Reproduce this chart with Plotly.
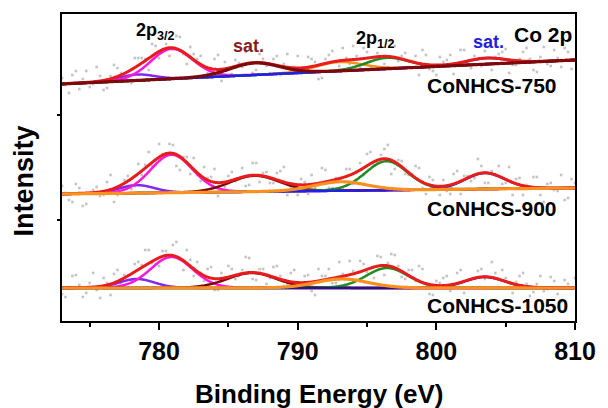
import numpy as np
import plotly.graph_objects as go

# ---------------- data ----------------
ENERGY_RANGE = [773.0, 810.0]
SAMPLES = ["CoNHCS-750", "CoNHCS-900", "CoNHCS-1050"]

# fitted components, in order:
# 2p3/2 (a), 2p3/2 (b), 2p3/2 satellite, 2p1/2 (a), 2p1/2 (b), 2p1/2 satellite
centers_750 = [778.4, 780.9, 786.9, 793.0, 796.45, 803.6]
fwhm_750 = [3.0, 3.6, 4.2, 4.0, 3.6, 3.4]
heights_750 = [6, 30, 12, 9, 11, 6]
background_750 = [237, 261]          # intensity at 773 eV and 810 eV (offset panel)

centers_900 = [778.4, 780.9, 786.9, 793.1, 796.4, 803.5]
fwhm_900 = [3.0, 3.6, 4.2, 4.5, 3.6, 3.4]
heights_900 = [8, 38, 16, 9, 29, 16]
background_900 = [127, 133]

centers_1050 = [778.4, 780.9, 786.7, 793.2, 796.45, 803.5]
fwhm_1050 = [3.0, 3.6, 4.2, 4.5, 3.6, 3.4]
heights_1050 = [9, 31, 15, 9, 20, 11]
background_1050 = [33, 33]

# raw (measured) points: grid A every 0.5 eV from 773.0, grid B shifted by 0.25 eV
raw_energy_a = np.arange(773.0, 810.25, 0.5)
raw_energy_b = np.arange(773.25, 810.0, 0.5)

raw_750_a = [243, 228, 250, 242, 234, 254, 231, 245, 253, 243, 238, 263, 262, 277, 263,
             277, 272, 284, 257, 267, 265, 248, 262, 240, 253, 261, 254, 273, 251, 262,
             248, 265, 257, 249, 265, 253, 262, 242, 262, 270, 255, 263, 275, 254, 269,
             262, 274, 254, 275, 265, 254, 265, 271, 252, 246, 259, 266, 256, 271, 253,
             262, 270, 251, 267, 272, 256, 262, 273, 251, 264, 257, 271, 254, 269, 260]
raw_750_b = [236, 246, 232, 250, 237, 245, 233, 256, 248, 244, 263, 263, 251, 275, 272,
             265, 285, 267, 274, 262, 245, 249, 266, 259, 247, 258, 269, 248, 267, 255,
             262, 246, 267, 254, 247, 264, 259, 243, 266, 259, 273, 257, 265, 273, 254,
             268, 257, 280, 260, 268, 260, 246, 266, 250, 264, 261, 247, 271, 258, 265,
             255, 274, 264, 269, 248, 256, 269, 262, 249, 274, 255, 263, 273, 252]

raw_900_a = [135, 121, 137, 115, 128, 134, 126, 146, 126, 141, 132, 157, 156, 155, 177,
             167, 176, 151, 164, 163, 140, 143, 152, 130, 145, 140, 153, 136, 158, 148,
             138, 148, 154, 134, 126, 139, 146, 136, 151, 133, 143, 152, 137, 158, 167,
             156, 166, 176, 152, 160, 146, 155, 133, 144, 133, 141, 127, 150, 145, 140,
             162, 138, 150, 155, 138, 126, 143, 136, 144, 126, 137, 131, 146, 123, 138]
raw_900_b = [128, 119, 133, 117, 131, 125, 139, 119, 134, 145, 135, 146, 169, 156, 167,
             177, 155, 164, 147, 146, 154, 144, 125, 134, 149, 142, 135, 158, 139, 149,
             138, 150, 126, 136, 142, 127, 133, 153, 133, 143, 132, 152, 149, 146, 169,
             159, 172, 147, 161, 147, 147, 153, 127, 141, 126, 130, 147, 127, 145, 143,
             155, 138, 146, 137, 154, 142, 126, 132, 144, 119, 138, 130, 121, 142]

raw_1050_a = [27, 34, 46, 24, 38, 31, 43, 26, 51, 46, 41, 59, 71, 58, 55,
              70, 76, 62, 71, 45, 48, 52, 31, 48, 55, 42, 51, 63, 41, 52,
              43, 55, 35, 48, 38, 45, 30, 52, 45, 38, 59, 36, 50, 60, 49,
              43, 64, 58, 66, 44, 51, 40, 52, 27, 40, 43, 30, 48, 28, 42,
              50, 42, 59, 34, 43, 28, 45, 37, 29, 45, 32, 40, 19, 37, 43]
raw_1050_b = [24, 45, 36, 28, 48, 23, 38, 47, 38, 33, 57, 56, 71, 57, 70,
              65, 79, 51, 61, 59, 40, 54, 31, 44, 52, 45, 64, 42, 52, 37,
              54, 45, 36, 51, 38, 46, 26, 45, 52, 38, 47, 60, 41, 57, 52,
              65, 46, 67, 55, 42, 51, 55, 34, 26, 38, 45, 35, 51, 33, 43,
              52, 33, 48, 51, 34, 39, 48, 25, 37, 30, 44, 27, 41, 32]

# tick values of the energy axis
major_ticks = [780, 790, 800, 810]
minor_ticks = [775, 785, 795, 805]

# ---------------- styling ----------------
C_PURPLE = "#8228F0"
C_MAGENTA = "#FF18DC"
C_DARKRED = "#7C0A0A"
C_ORANGE = "#F99020"
C_GREEN = "#1E8C1E"
C_BLUE = "#2020E6"
C_NAVY = "#1C1C80"
C_ENV = "#E81C1C"
C_DOTS = "#C4C4C4"

FONT = "Arial, 'Liberation Sans', Helvetica, sans-serif"


def profile(x, c, w, h, eta=0.1):
    s = w / (2 * np.sqrt(2 * np.log(2)))
    g = np.exp(-((x - c) ** 2) / (2 * s * s))
    lo = 1.0 / (1.0 + ((x - c) / (w / 2)) ** 2)
    return h * ((1 - eta) * g + eta * lo)


x = np.linspace(ENERGY_RANGE[0], ENERGY_RANGE[1], 741)

panels = [
    (centers_750, fwhm_750, heights_750, background_750, raw_750_a, raw_750_b, C_BLUE, "top"),
    (centers_900, fwhm_900, heights_900, background_900, raw_900_a, raw_900_b, C_BLUE, "mid"),
    (centers_1050, fwhm_1050, heights_1050, background_1050, raw_1050_a, raw_1050_b, C_NAVY, "bot"),
]

fig = go.Figure()

for cen, wid, hei, bgv, raw_a, raw_b, sat_col, kind in panels:
    bg = np.interp(x, ENERGY_RANGE, bgv)
    comps = [profile(x, c, w, h) for c, w, h in zip(cen, wid, hei)]
    env = bg + np.sum(comps, axis=0)

    for ex, ey in ((raw_energy_a, raw_a), (raw_energy_b, raw_b)):
        fig.add_trace(go.Scatter(x=ex, y=ey, mode="markers",
                                 marker=dict(symbol="square", size=2.6, color=C_DOTS),
                                 hoverinfo="skip", showlegend=False))

    cols = [C_PURPLE, C_MAGENTA, C_DARKRED, C_ORANGE, C_GREEN, sat_col]
    lines = {i: bg + comps[i] for i in range(6)}
    if kind == "top":
        order = [3, 0, 1, 4, 5, "env", 2]
    else:
        order = [0, 1, 2, 4, 5, "env", 3]
    for key in order:
        if key == "env":
            fig.add_trace(go.Scatter(x=x, y=env, mode="lines",
                                     line=dict(color=C_ENV, width=3, simplify=False),
                                     hoverinfo="skip", showlegend=False))
        else:
            last = key == order[-1]
            fig.add_trace(go.Scatter(x=x, y=lines[key], mode="lines",
                                     line=dict(color=cols[key], width=3.2 if last else 2.5,
                                               simplify=False),
                                     hoverinfo="skip", showlegend=False))

# ---------------- layout ----------------
PLOT_H = 307.0
W_PLOT = 520.0

fig.update_layout(
    width=608, height=408,
    margin=dict(l=62, r=26, t=14, b=87),
    paper_bgcolor="white", plot_bgcolor="white",
    font=dict(family=FONT, color="black"),
    showlegend=False,
)
fig.update_xaxes(
    range=ENERGY_RANGE, showgrid=False, zeroline=False,
    showline=True, linecolor="black", linewidth=2, mirror=True,
    ticks="outside", ticklen=7, tickwidth=2, tickcolor="black",
    tickvals=major_ticks, ticktext=[str(v) for v in major_ticks],
    tickfont=dict(size=25, family=FONT, color="black", weight="bold"),
    minor=dict(tickvals=minor_ticks, ticks="outside", ticklen=4, tickwidth=2, tickcolor="black"),
)
fig.update_yaxes(
    range=[0, PLOT_H], showgrid=False, zeroline=False,
    showline=True, linecolor="black", linewidth=2, mirror=True,
    ticks="outside", ticklen=3, tickwidth=2, tickcolor="black",
    tickvals=[101, 206], showticklabels=False,
)

ann_font = dict(family=FONT, color="black", weight="bold")
annotations = [
    dict(x=779.75, y=290, text="2p<sub>3/2</sub>", font=dict(size=18, **ann_font)),
    dict(x=786.45, y=275, text="sat.", font=dict(size=18, family=FONT, color="#8B1A1A", weight="bold")),
    dict(x=795.6, y=282, text="2p<sub>1/2</sub>", font=dict(size=18, **ann_font)),
    dict(x=803.75, y=279, text="sat.", font=dict(size=18, family=FONT, color="#2020E0", weight="bold")),
    dict(x=807.7, y=287, text="Co 2p", font=dict(size=21, **ann_font)),
    dict(x=799.2, y=236, text=SAMPLES[0], xanchor="left", font=dict(size=21, **ann_font)),
    dict(x=799.2, y=113, text=SAMPLES[1], xanchor="left", font=dict(size=21, **ann_font)),
    dict(x=799.2, y=16, text=SAMPLES[2], xanchor="left", font=dict(size=21, **ann_font)),
]
for a in annotations:
    a.setdefault("xanchor", "center")
    a.update(xref="x", yref="y", yanchor="middle", showarrow=False)
    fig.add_annotation(**a)

fig.add_annotation(xref="paper", yref="paper", x=0.5, y=(321 - 394) / PLOT_H,
                   text="Binding Energy (eV)", showarrow=False,
                   xanchor="center", yanchor="middle",
                   font=dict(size=26, **ann_font))
fig.add_annotation(xref="paper", yref="paper", x=(23 - 62) / W_PLOT, y=(321 - 181) / PLOT_H,
                   text="Intensity", textangle=-90, showarrow=False,
                   xanchor="center", yanchor="middle",
                   font=dict(size=27, **ann_font))

fig.write_html("out.html",
               config={"displayModeBar": False},
               post_script="document.body.style.margin='0';document.body.style.padding='0';")
